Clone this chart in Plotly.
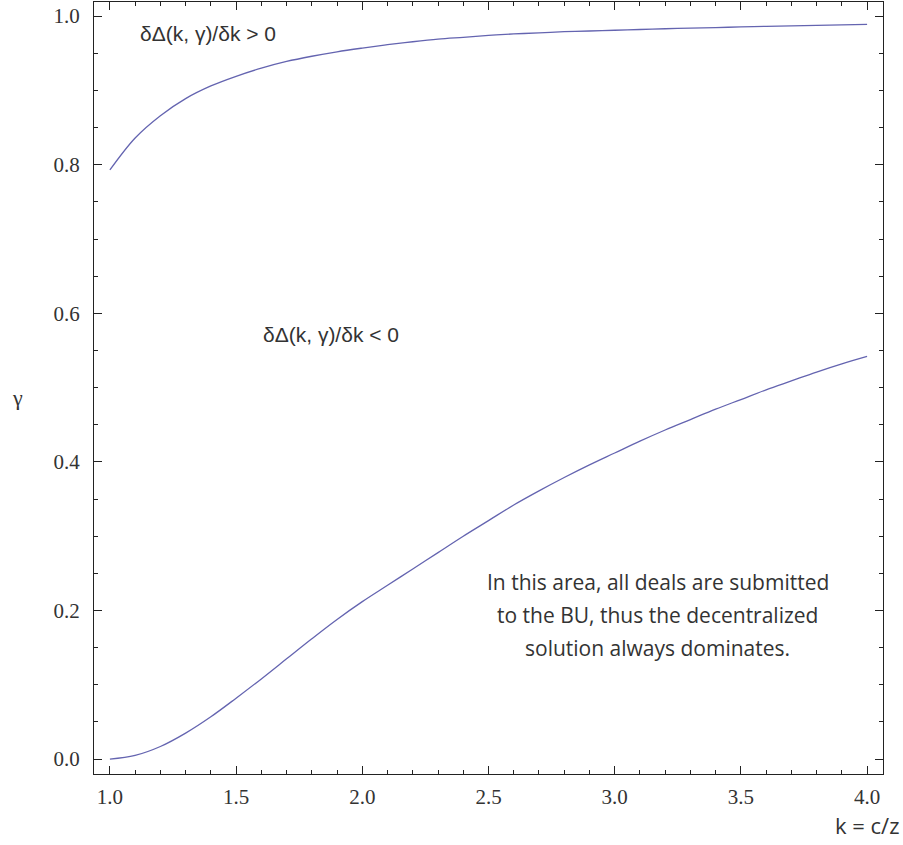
import plotly.graph_objects as go

k_values = [1.0, 1.1, 1.2, 1.3, 1.4, 1.5, 1.6, 1.7, 1.8, 1.9, 2.0, 2.1, 2.2, 2.3, 2.4, 2.5,
            2.6, 2.7, 2.8, 2.9, 3.0, 3.1, 3.2, 3.3, 3.4, 3.5, 3.6, 3.7, 3.8, 3.9, 4.0]
upper_gamma = [0.793, 0.836, 0.866, 0.889, 0.906, 0.919, 0.930, 0.939, 0.946, 0.952, 0.957,
               0.9615, 0.9655, 0.969, 0.9715, 0.974, 0.976, 0.9775, 0.979, 0.980, 0.981, 0.982,
               0.983, 0.9838, 0.9846, 0.9854, 0.9862, 0.9869, 0.9876, 0.9883, 0.989]
lower_gamma = [0.000, 0.005, 0.017, 0.035, 0.057, 0.082, 0.108, 0.135, 0.162, 0.188, 0.212,
               0.234, 0.256, 0.278, 0.300, 0.321, 0.342, 0.361, 0.379, 0.396, 0.412, 0.428,
               0.443, 0.457, 0.471, 0.484, 0.497, 0.509, 0.521, 0.532, 0.542]

x_ticks = [1.0, 1.5, 2.0, 2.5, 3.0, 3.5, 4.0]
y_ticks = [0.0, 0.2, 0.4, 0.6, 0.8, 1.0]

note_lines = ["In this area, all deals are submitted",
              "to the BU, thus the decentralized",
              "solution always dominates."]
note_y = [0.238, 0.194, 0.149]

serif = "Liberation Serif, Times New Roman, Tinos, DejaVu Serif, serif"
sans = "Liberation Sans, Arial, Arimo, DejaVu Sans, sans-serif"
calibri_like = "Open Sans, Noto Sans, sans-serif"

line_color = "#6464b0"
fig = go.Figure()
for ys in (upper_gamma, lower_gamma):
    fig.add_trace(go.Scatter(x=k_values, y=ys, mode="lines", line_shape="spline",
                             line=dict(color=line_color, width=1.3), showlegend=False,
                             hoverinfo="skip"))

axis_common = dict(showline=True, mirror="allticks", linecolor="#222", linewidth=1.3,
                   ticks="inside", ticklen=8, tickwidth=1.3, tickcolor="#222",
                   showgrid=False, zeroline=False,
                   tickfont=dict(family=serif, size=21, color="#333"))

fig.update_xaxes(range=[0.937, 4.063], tickvals=x_ticks,
                 ticktext=[f"{v:.1f}" for v in x_ticks], ticklabelstandoff=4,
                 minor=dict(dtick=0.1, tick0=1.0, ticks="inside", ticklen=4,
                            tickwidth=1, tickcolor="#222", showgrid=False),
                 **axis_common)
fig.update_yaxes(range=[-0.020, 1.019], tickvals=y_ticks,
                 ticktext=[f"{v:.1f}" for v in y_ticks], ticklabelstandoff=9,
                 minor=dict(dtick=0.05, tick0=0.0, ticks="inside", ticklen=4,
                            tickwidth=1, tickcolor="#222", showgrid=False),
                 **axis_common)

fig.add_annotation(x=1.389, y=0.977, text="δΔ(k, γ)/δk > 0", showarrow=False,
                   font=dict(family=sans, size=21, color="#333"))
fig.add_annotation(x=1.877, y=0.571, text="δΔ(k, γ)/δk < 0", showarrow=False,
                   font=dict(family=sans, size=21, color="#333"))
for txt, yy in zip(note_lines, note_y):
    fig.add_annotation(x=3.17, y=yy, text=txt, showarrow=False, align="center",
                       font=dict(family=calibri_like, size=21, color="#333"))
fig.add_annotation(xref="paper", yref="paper", x=-0.0965, y=0.488, xanchor="center",
                   yanchor="middle", text="γ", showarrow=False,
                   font=dict(family=serif, size=22, color="#333"))
fig.add_annotation(xref="paper", yref="paper", x=1.0235, y=-0.066, xanchor="right",
                   yanchor="middle", text="k = c/z", showarrow=False,
                   font=dict(family=calibri_like, size=22, color="#333"))

fig.update_layout(width=903, height=845, autosize=False,
                  margin=dict(l=94, r=20, t=2, b=71),
                  paper_bgcolor="white", plot_bgcolor="white")
fig.write_html("out.html", config={"displayModeBar": False},
               post_script="document.body.style.margin='0px';")
